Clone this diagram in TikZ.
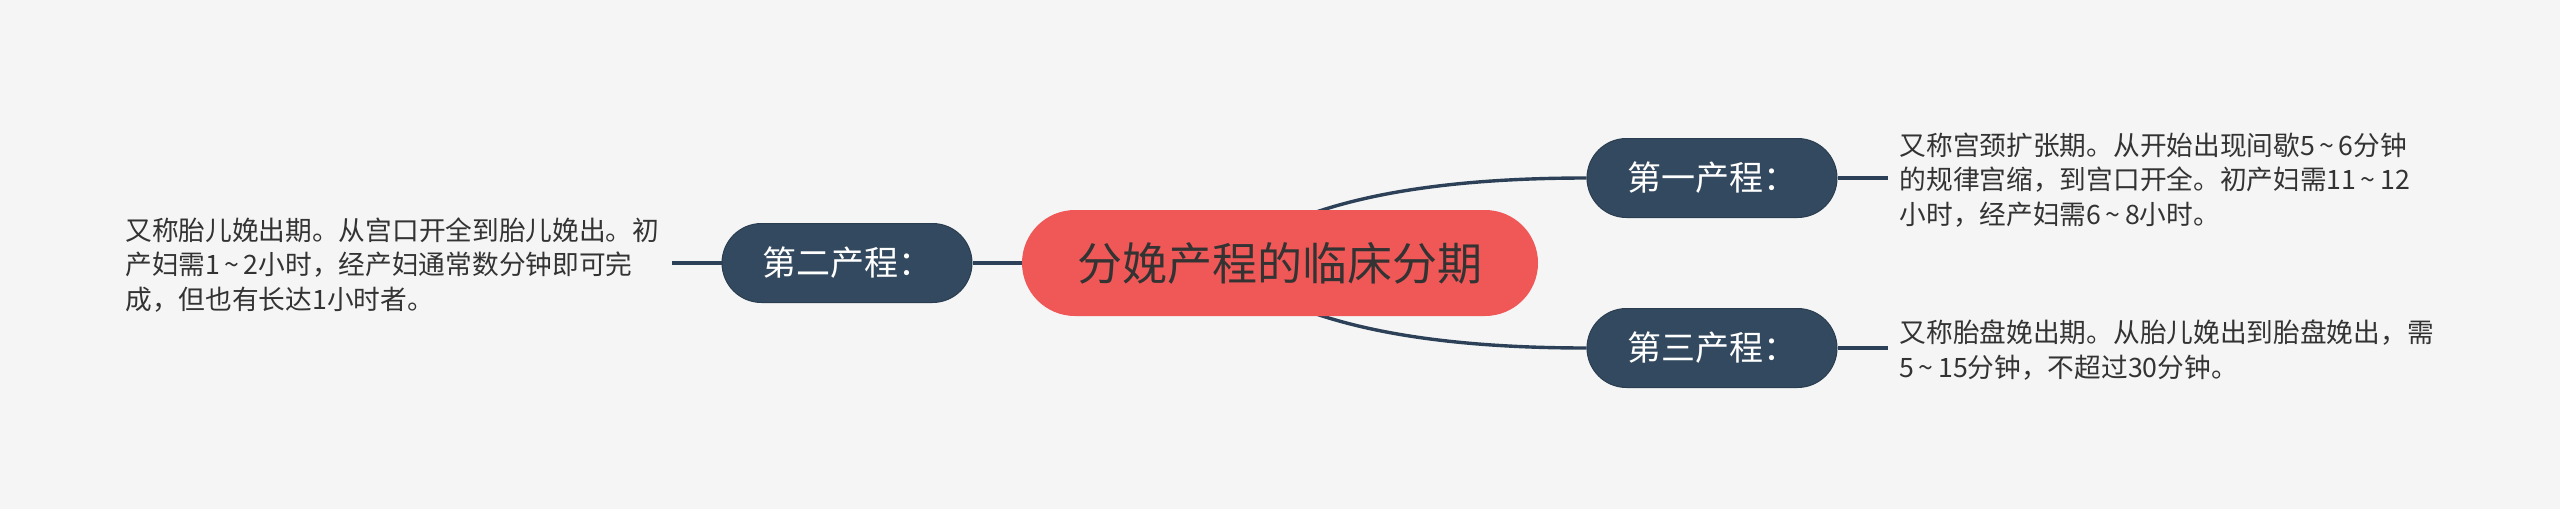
\documentclass[tikz,border=0pt]{standalone}
\usepackage{fontspec}
\setmainfont{Noto Sans CJK SC}
\usetikzlibrary{calc,positioning,shapes.misc,backgrounds}
\definecolor{bgcol}{HTML}{F5F5F5}
\definecolor{rootred}{HTML}{F05858}
\definecolor{slate}{HTML}{33495F}
\definecolor{wirecol}{HTML}{2C4158}
\definecolor{inkcol}{HTML}{333333}
\newcommand{\til}{\,\textasciitilde\,}

\tikzset{
	root/.style={rounded rectangle, fill=rootred, text=inkcol, minimum width=516pt, minimum height=106pt, inner sep=0pt, font=\fontsize{45}{54}\selectfont},
	stage/.style={rounded rectangle, fill=slate, draw=slate!85!black, line width=1pt, text=white, minimum width=250pt, minimum height=79pt, inner sep=0pt, font=\fontsize{34}{40}\selectfont},
	note/.style={align=left, text=inkcol, inner xsep=12pt, inner ysep=0pt, font=\fontsize{26.7}{34.5}\selectfont},
	wire/.style={draw=wirecol, line width=3.4pt}
}

\begin{document}
\begin{tikzpicture}[x=1pt, y=1pt]
	%%%%% START %%%%%
	\useasboundingbox (0, 0) rectangle (2560, -509);
	
	\node[root] (root) at (1280, -263) {分娩产程的临床分期};
	
	\node[stage] (p1) at (1712, -178) {第一产程：};
	\node[stage] (p2) at (847, -263) {第二产程：};
	\node[stage] (p3) at (1712, -348) {第三产程：};
	
	\node[note, right=50pt of p1, yshift=-2pt] (n1) {又称宫颈扩张期。从开始出现间歇5\til6分钟\\的规律宫缩，到宫口开全。初产妇需11\til12\\小时，经产妇需6\til8小时。};
	\node[note, left=50pt of p2, yshift=-2pt] (n2) {又称胎儿娩出期。从宫口开全到胎儿娩出。初\\产妇需1\til2小时，经产妇通常数分钟即可完\\成，但也有长达1小时者。};
	\node[note, right=50pt of p3, yshift=-2pt] (n3) {又称胎盘娩出期。从胎儿娩出到胎盘娩出，需\\5\til15分钟，不超过30分钟。};
	
	\begin{pgfonlayer}{background}
		\fill[bgcol] (0, 0) rectangle (2560, -509);
		
		\draw[wire] (root.west) -- (p2.east);
		\draw[wire] ($(root.north)+(15,-10)$) .. controls +(70,28) and +(-125,0) .. (p1.west);
		\draw[wire] ($(root.south)+(15,10)$) .. controls +(70,-28) and +(-125,0) .. (p3.west);
		
		\draw[wire] (p1.east) -- (p1.east -| n1.west);
		\draw[wire] (p2.west) -- (p2.west -| n2.east);
		\draw[wire] (p3.east) -- (p3.east -| n3.west);
	\end{pgfonlayer}
	%%%%% END %%%%%
\end{tikzpicture}
\end{document}
